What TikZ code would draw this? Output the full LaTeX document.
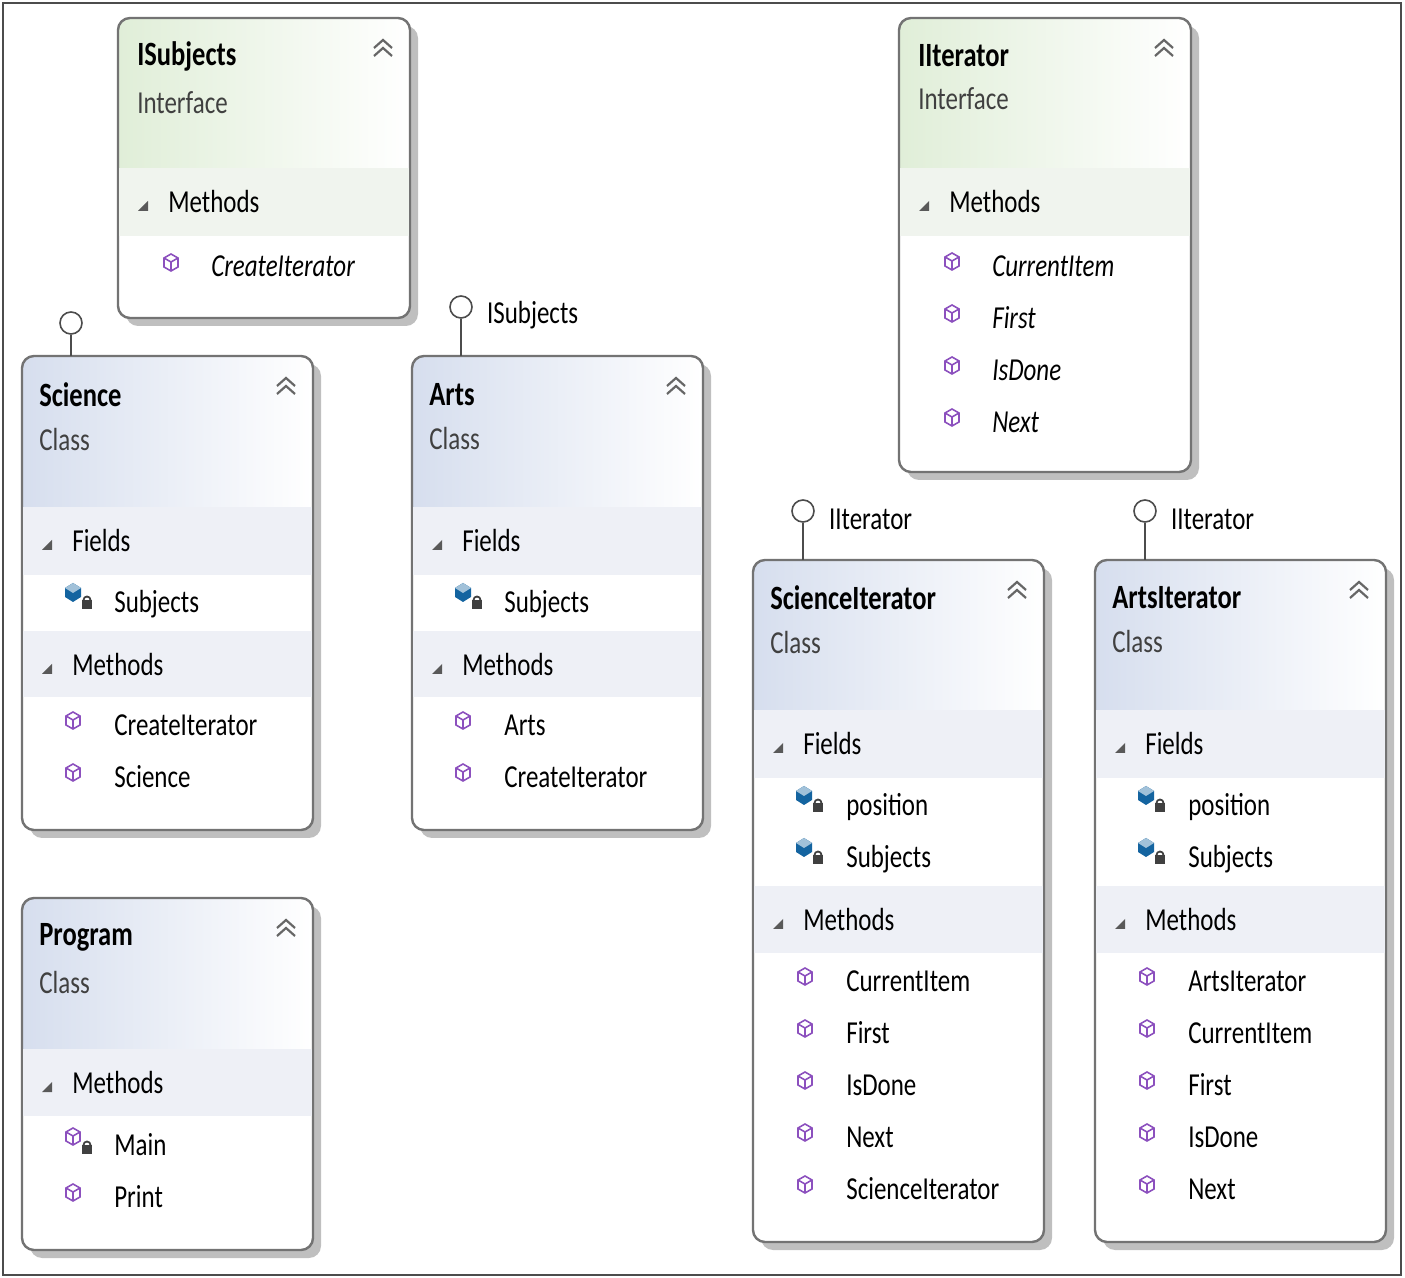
\documentclass[tikz,border=0pt]{standalone}
\usepackage{fontspec}
\setmainfont{Carlito}
\usetikzlibrary{positioning}
\definecolor{classtop}{RGB}{214,222,238}
\definecolor{ifacetop}{RGB}{224,238,216}
\definecolor{bandgrey}{RGB}{238,240,246}
\definecolor{ifband}{RGB}{240,244,238}
\definecolor{methpurple}{RGB}{140,80,190}
\definecolor{fieldblue}{RGB}{20,100,160}
\tikzset{
  txt/.style={anchor=west, inner sep=0pt, font=\fontsize{16}{18}\selectfont, xscale=0.78},
  title/.style={txt, font=\fontsize{17}{19}\selectfont\bfseries},
  kind/.style={txt, text=black!75},
  lolli/.style={draw=black!70, thick, circle, fill=white, minimum size=11pt, inner sep=0pt},
  frame/.style={draw=black!55, line width=1.2pt, rounded corners=6pt},
}
% box: x1,y1,x2,y2,header bottom,top colour
\newcommand{\umlbox}[6]{
  \fill[black!25, rounded corners=6pt] (#1+8,#2+8) rectangle (#3+8,#4+8);
  \fill[white, rounded corners=6pt] (#1,#2) rectangle (#3,#4);
  \begin{scope}
    \clip[rounded corners=6pt] (#1,#2) rectangle (#3,#4);
    \shade[left color=#6, right color=white] (#1,#2) rectangle (#3,#5);
  \end{scope}
  \draw[black!20] (#1,#5) -- (#3,#5);
  \draw[frame] (#1,#2) rectangle (#3,#4);
  \draw[black!60, line width=1.1pt] (#3-36,#2+30) -- (#3-27,#2+22) -- (#3-18,#2+30)
    (#3-36,#2+38) -- (#3-27,#2+30) -- (#3-18,#2+38);
}
\newcommand{\band}[7]{% x1,x2,y1,y2,text,colour,name
  \fill[#6] (#1+1,#3) rectangle (#2-1,#4);
  \fill[black!65] (#1+20,#3+43) -- (#1+30,#3+43) -- (#1+30,#3+33) -- cycle;
  \node[txt] (#7) at (#1+50,#3+34) {#5};
}
\newcommand{\meth}[2]{% x,y
  \draw[methpurple, line width=0.8pt] (#1,#2-9) -- (#1+7,#2-5) -- (#1+7,#2+4) -- (#1,#2+8)
    -- (#1-7,#2+4) -- (#1-7,#2-5) -- cycle (#1-7,#2-5) -- (#1,#2-1) -- (#1+7,#2-5) (#1,#2-1) -- (#1,#2+8);
}
\newcommand{\lock}[2]{
  \fill[black!75] (#1+9,#2+6) rectangle (#1+19,#2+15);
  \draw[black!75, line width=0.9pt] (#1+10.5,#2+6) arc (180:360:3.5);
}
\newcommand{\fieldicon}[2]{
  \fill[fieldblue] (#1,#2-11) -- (#1+8,#2-6) -- (#1+8,#2+3) -- (#1,#2+8) -- (#1-8,#2+3) -- (#1-8,#2-6) -- cycle;
  \fill[fieldblue!40] (#1,#2-11) -- (#1+8,#2-6) -- (#1,#2-1) -- (#1-8,#2-6) -- cycle;
  \lock{#1}{#2}
}
\begin{document}
\begin{tikzpicture}[x=0.5pt, y=-0.5pt]
\useasboundingbox (0,0) rectangle (1405,1278);
\draw[black!70, line width=0.8pt] (3,3) rectangle (1401,1275);

% ISubjects
\umlbox{118}{18}{410}{318}{168}{ifacetop}
\node[title] (isub) at (137,56) {ISubjects};
\node[kind, below=10pt of isub.south west, anchor=north west] (isubk) {Interface};
\band{118}{410}{168}{236}{Methods}{ifband}{isubmeth}
\meth{171}{263} \node[txt, font=\fontsize{16}{18}\selectfont\itshape] (isubm1) at (211,266) {CreateIterator};

% IIterator
\umlbox{899}{18}{1191}{472}{168}{ifacetop}
\node[title] (iit) at (918,56) {IIterator};
\node[kind, below=10pt of iit.south west, anchor=north west] (iitk) {Interface};
\band{899}{1191}{168}{236}{Methods}{ifband}{iitmeth}
\foreach \t [count=\i, evaluate=\i as \yy using 266+52*(\i-1)] in {CurrentItem, First, IsDone, Next}
  {\meth{952}{\yy-4}
   \node[txt, font=\fontsize{16}{18}\selectfont\itshape] (iitm\i) at (992,\yy) {\t};}

% Science
\umlbox{22}{356}{313}{830}{507}{classtop}
\node[title] (sci) at (39,395) {Science};
\node[kind, below=10pt of sci.south west, anchor=north west] (scik) {Class};
\band{22}{313}{507}{575}{Fields}{bandgrey}{scifld}
\fieldicon{73}{594} \node[txt] (scif1) at (114,604) {Subjects};
\band{22}{313}{631}{697}{Methods}{bandgrey}{scimeth}
\foreach \t [count=\i, evaluate=\i as \yy using 725+52*(\i-1)] in {CreateIterator, Science}
  {\meth{73}{\yy-4} \node[txt] (scim\i) at (114,\yy) {\t};}
\node[lolli] (scil) at (71,323) {};
\coordinate (scit) at (71,356);
\draw[black!70, thick] (scil) -- (scit);

% Arts
\umlbox{412}{356}{703}{830}{507}{classtop}
\node[title] (arts) at (429,395) {Arts};
\node[kind, below=10pt of arts.south west, anchor=north west] (artsk) {Class};
\band{412}{703}{507}{575}{Fields}{bandgrey}{artsfld}
\fieldicon{463}{594} \node[txt] (artsf1) at (504,604) {Subjects};
\band{412}{703}{631}{697}{Methods}{bandgrey}{artsmeth}
\foreach \t [count=\i, evaluate=\i as \yy using 725+52*(\i-1)] in {Arts, CreateIterator}
  {\meth{463}{\yy-4} \node[txt] (artsm\i) at (504,\yy) {\t};}
\node[lolli] (artsl) at (461,307) {};
\node[txt, right=7pt of artsl, yshift=-4pt] (artsll) {ISubjects};
\coordinate (artst) at (461,356);
\draw[black!70, thick] (artsl) -- (artst);

% Program
\umlbox{22}{898}{313}{1250}{1049}{classtop}
\node[title] (prog) at (39,937) {Program};
\node[kind, below=10pt of prog.south west, anchor=north west] (progk) {Class};
\band{22}{313}{1049}{1116}{Methods}{bandgrey}{progmeth}
\meth{73}{1137} \lock{73}{1139} \node[txt] (progm1) at (114,1145) {Main};
\meth{73}{1193} \node[txt] (progm2) at (114,1197) {Print};

% ScienceIterator / ArtsIterator
\foreach \x/\nm/\pre/\ms in {753/ScienceIterator/sit/{CurrentItem,First,IsDone,Next,ScienceIterator},
                             1095/ArtsIterator/ait/{ArtsIterator,CurrentItem,First,IsDone,Next}} {
  \pgfmathsetmacro{\xr}{\x+291}
  \umlbox{\x}{560}{\xr}{1242}{710}{classtop}
  \node[title] (\pre) at (\x+17,598) {\nm};
  \node[kind, below=10pt of \pre.south west, anchor=north west] (\pre k) {Class};
  \band{\x}{\xr}{710}{778}{Fields}{bandgrey}{\pre fld}
  \fieldicon{\x+51}{797} \node[txt] (\pre f1) at (\x+93,807) {position};
  \fieldicon{\x+51}{849} \node[txt] (\pre f2) at (\x+93,859) {Subjects};
  \band{\x}{\xr}{886}{953}{Methods}{bandgrey}{\pre meth}
  \foreach \t [count=\i, evaluate=\i as \yy using 981+52*(\i-1)] in \ms
    {\meth{\x+52}{\yy-4} \node[txt] (\pre m\i) at (\x+93,\yy) {\t};}
  \node[lolli] (\pre l) at (\x+50,511) {};
  \node[txt, right=7pt of \pre l, yshift=-4pt] (\pre ll) {IIterator};
  \coordinate (\pre t) at (\x+50,560);
  \draw[black!70, thick] (\pre l) -- (\pre t);
}
\end{tikzpicture}
\end{document}
